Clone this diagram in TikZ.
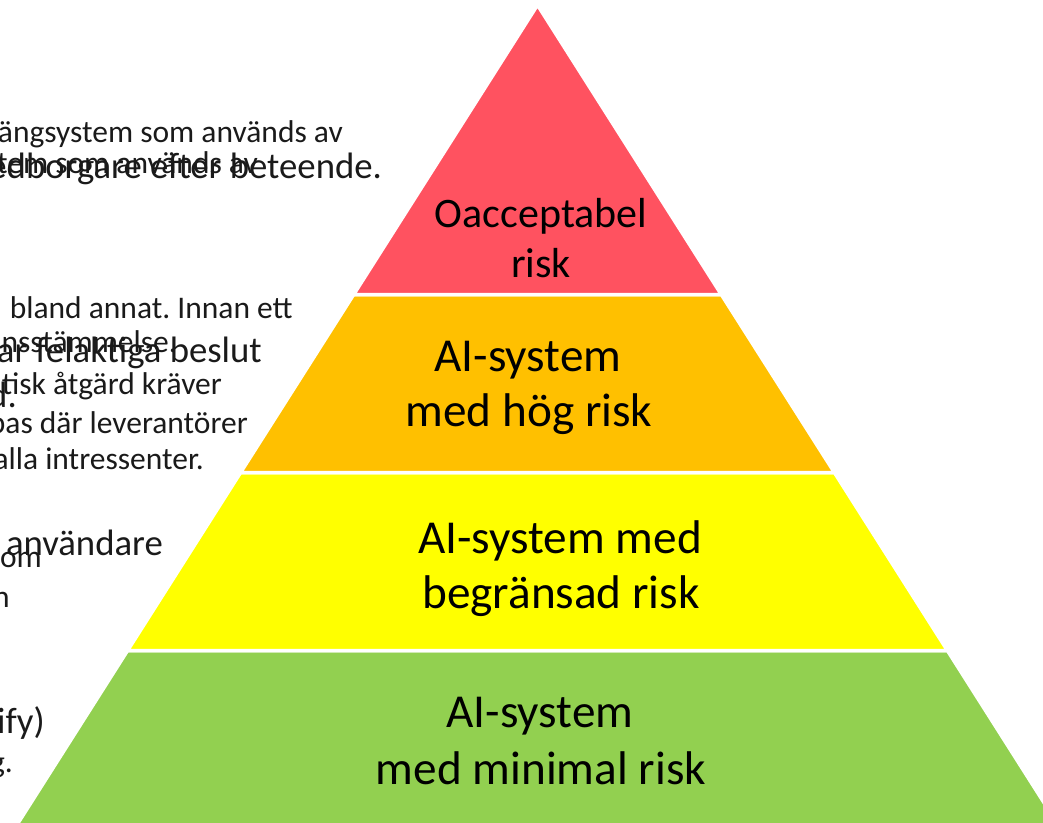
\documentclass[tikz,border=0pt]{standalone}
\usepackage{fontspec}
\setmainfont{Carlito}
\frenchspacing
\definecolor{tierred}{HTML}{FF5260}
\definecolor{tierorange}{HTML}{FFC000}
\definecolor{tieryellow}{HTML}{FFFF00}
\definecolor{tiergreen}{HTML}{92D050}
\definecolor{bodytext}{HTML}{1A1A1A}
\tikzset{
  band/.style={draw=white, line width=3.5pt, line join=miter},
  tier/.style={anchor=base, inner sep=0pt, text=black, font=\fontsize{47.25}{56}\selectfont},
  toptier/.style={tier, font=\fontsize{42}{50}\selectfont},
  smalltext/.style={anchor=base east, inner sep=0pt, text=bodytext, font=\fontsize{31.5}{38}\selectfont},
  largetext/.style={anchor=base east, inner sep=0pt, text=bodytext, font=\fontsize{36.75}{45}\selectfont}
}
\begin{document}
\begin{tikzpicture}[x=1pt, y=-1pt]
  \useasboundingbox (0,0) rectangle (1043,822);
  \clip (0,0) rectangle (1043,822);

  % text fragments on the left
  \node[smalltext] (s1) at (343,142) {ängsystem som används av};
  \node[smalltext] (s2) at (258,173) {stem som används av};
  \node[largetext] (l2) at (382,178) {edborgare efter beteende.};
  \node[smalltext] (s3) at (293,318) {bland annat. Innan ett};
  \node[smalltext] (s4) at (177,352) {nsstämmelse.};
  \node[largetext] (l4) at (262,362) {ar felaktiga beslut};
  \node[smalltext] (s5) at (222,394) {tisk åtgärd kräver};
  \node[largetext] (l5) at (17,407) {d.};
  \node[smalltext] (s6) at (248,433) {pas där leverantörer};
  \node[smalltext] (s7) at (204,469) {alla intressenter.};
  \node[largetext] (l8) at (163,555) {användare};
  \node[smalltext] (s8) at (42,567) {om};
  \node[smalltext] (s9) at (10,607) {n};
  \node[largetext] (l10) at (45,733) {ify)};
  \node[smalltext] (s11) at (13,772) {g.};

  % pyramid tiers
  \fill[tiergreen, band] (127.6,650.5) -- (947.4,650.5) -- (1067.7,840) -- (7.3,840) -- cycle;
  \fill[tieryellow, band] (240.6,472.5) -- (834.4,472.5) -- (947.4,650.5) -- (127.6,650.5) -- cycle;
  \fill[tierorange, band] (353.7,294.5) -- (721.3,294.5) -- (834.4,472.5) -- (240.6,472.5) -- cycle;
  \fill[tierred, band] (537.5,5) -- (721.3,294.5) -- (353.7,294.5) -- cycle;

  % tier labels
  \node[toptier] (t1a) at (541,227) {Oacceptabel};
  \node[toptier] (t1b) at (541,277) {risk};
  \node[tier] (t2a) at (528,371) {AI-system};
  \node[tier] (t2b) at (529,426) {med hög risk};
  \node[tier] (t3a) at (560,553) {AI-system med};
  \node[tier] (t3b) at (561,608) {begränsad risk};
  \node[tier] (t4a) at (540,727) {AI-system};
  \node[tier] (t4b) at (541,784) {med minimal risk};
\end{tikzpicture}
\end{document}
